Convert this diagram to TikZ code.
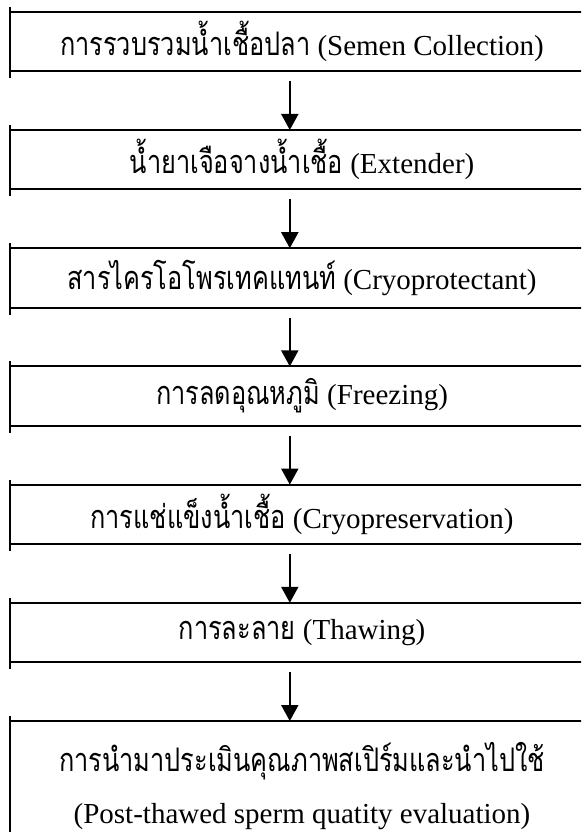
\documentclass[tikz,border=0pt]{standalone}
\usepackage{fontspec}
\setmainfont{Liberation Serif}
\newfontfamily\thai[Script=Thai,Scale=1.12,FakeStretch=0.78]{Loma}
\usetikzlibrary{arrows.meta,calc}
\tikzset{
  flowbox/.style={minimum width=584pt, minimum height=59pt, inner sep=0pt, align=center,
    font=\fontsize{29}{52}\selectfont},
  rule/.style={line width=2pt},
  flowarrow/.style={line width=2pt, -{Triangle[width=17pt,length=16pt]}},
}
\begin{document}
\begin{tikzpicture}[x=1pt,y=-1pt]
\useasboundingbox (0,0) rectangle (581,832);
\clip (0,0) rectangle (581,832);
\node[flowbox] (b1) at (302,41.5) {{\thai การรวบรวมน้ำเชื้อปลา} (Semen Collection)};
\node[flowbox] (b2) at (302,159.7) {{\thai น้ำยาเจือจางน้ำเชื้อ} (Extender)};
\node[flowbox] (b3) at (302,277.9) {{\thai สารไครโอโพรเทคแทนท์} (Cryoprotectant)};
\node[flowbox] (b4) at (302,396.1) {{\thai การลดอุณหภูมิ} (Freezing)};
\node[flowbox] (b5) at (302,514.3) {{\thai การแช่แข็งน้ำเชื้อ} (Cryopreservation)};
\node[flowbox] (b6) at (302,632.5) {{\thai การละลาย} (Thawing)};
\node[flowbox, minimum height=130pt] (b7) at (302,786.2) {{\thai การนำมาประเมินคุณภาพสเปิร์มและนำไปใช้}\\(Post-thawed sperm quatity evaluation)};
\foreach \n in {b1,b2,b3,b4,b5,b6} {
  \draw[rule] (\n.north west) -- (\n.north east);
  \draw[rule] (\n.south west) -- (\n.south east);
  \draw[rule] ([yshift=5pt]\n.north west) -- ([yshift=-7pt]\n.south west);
}
\draw[rule] (b7.north west) -- (b7.north east);
\draw[rule] ([yshift=5pt]b7.north west) -- (b7.south west);
\foreach \a/\b in {b1/b2,b2/b3,b3/b4,b4/b5,b5/b6,b6/b7} {
  \draw[flowarrow] ($(\a.south west)+(280,10)$) -- ($(\b.north west)+(280,0)$);
}
\end{tikzpicture}
\end{document}
